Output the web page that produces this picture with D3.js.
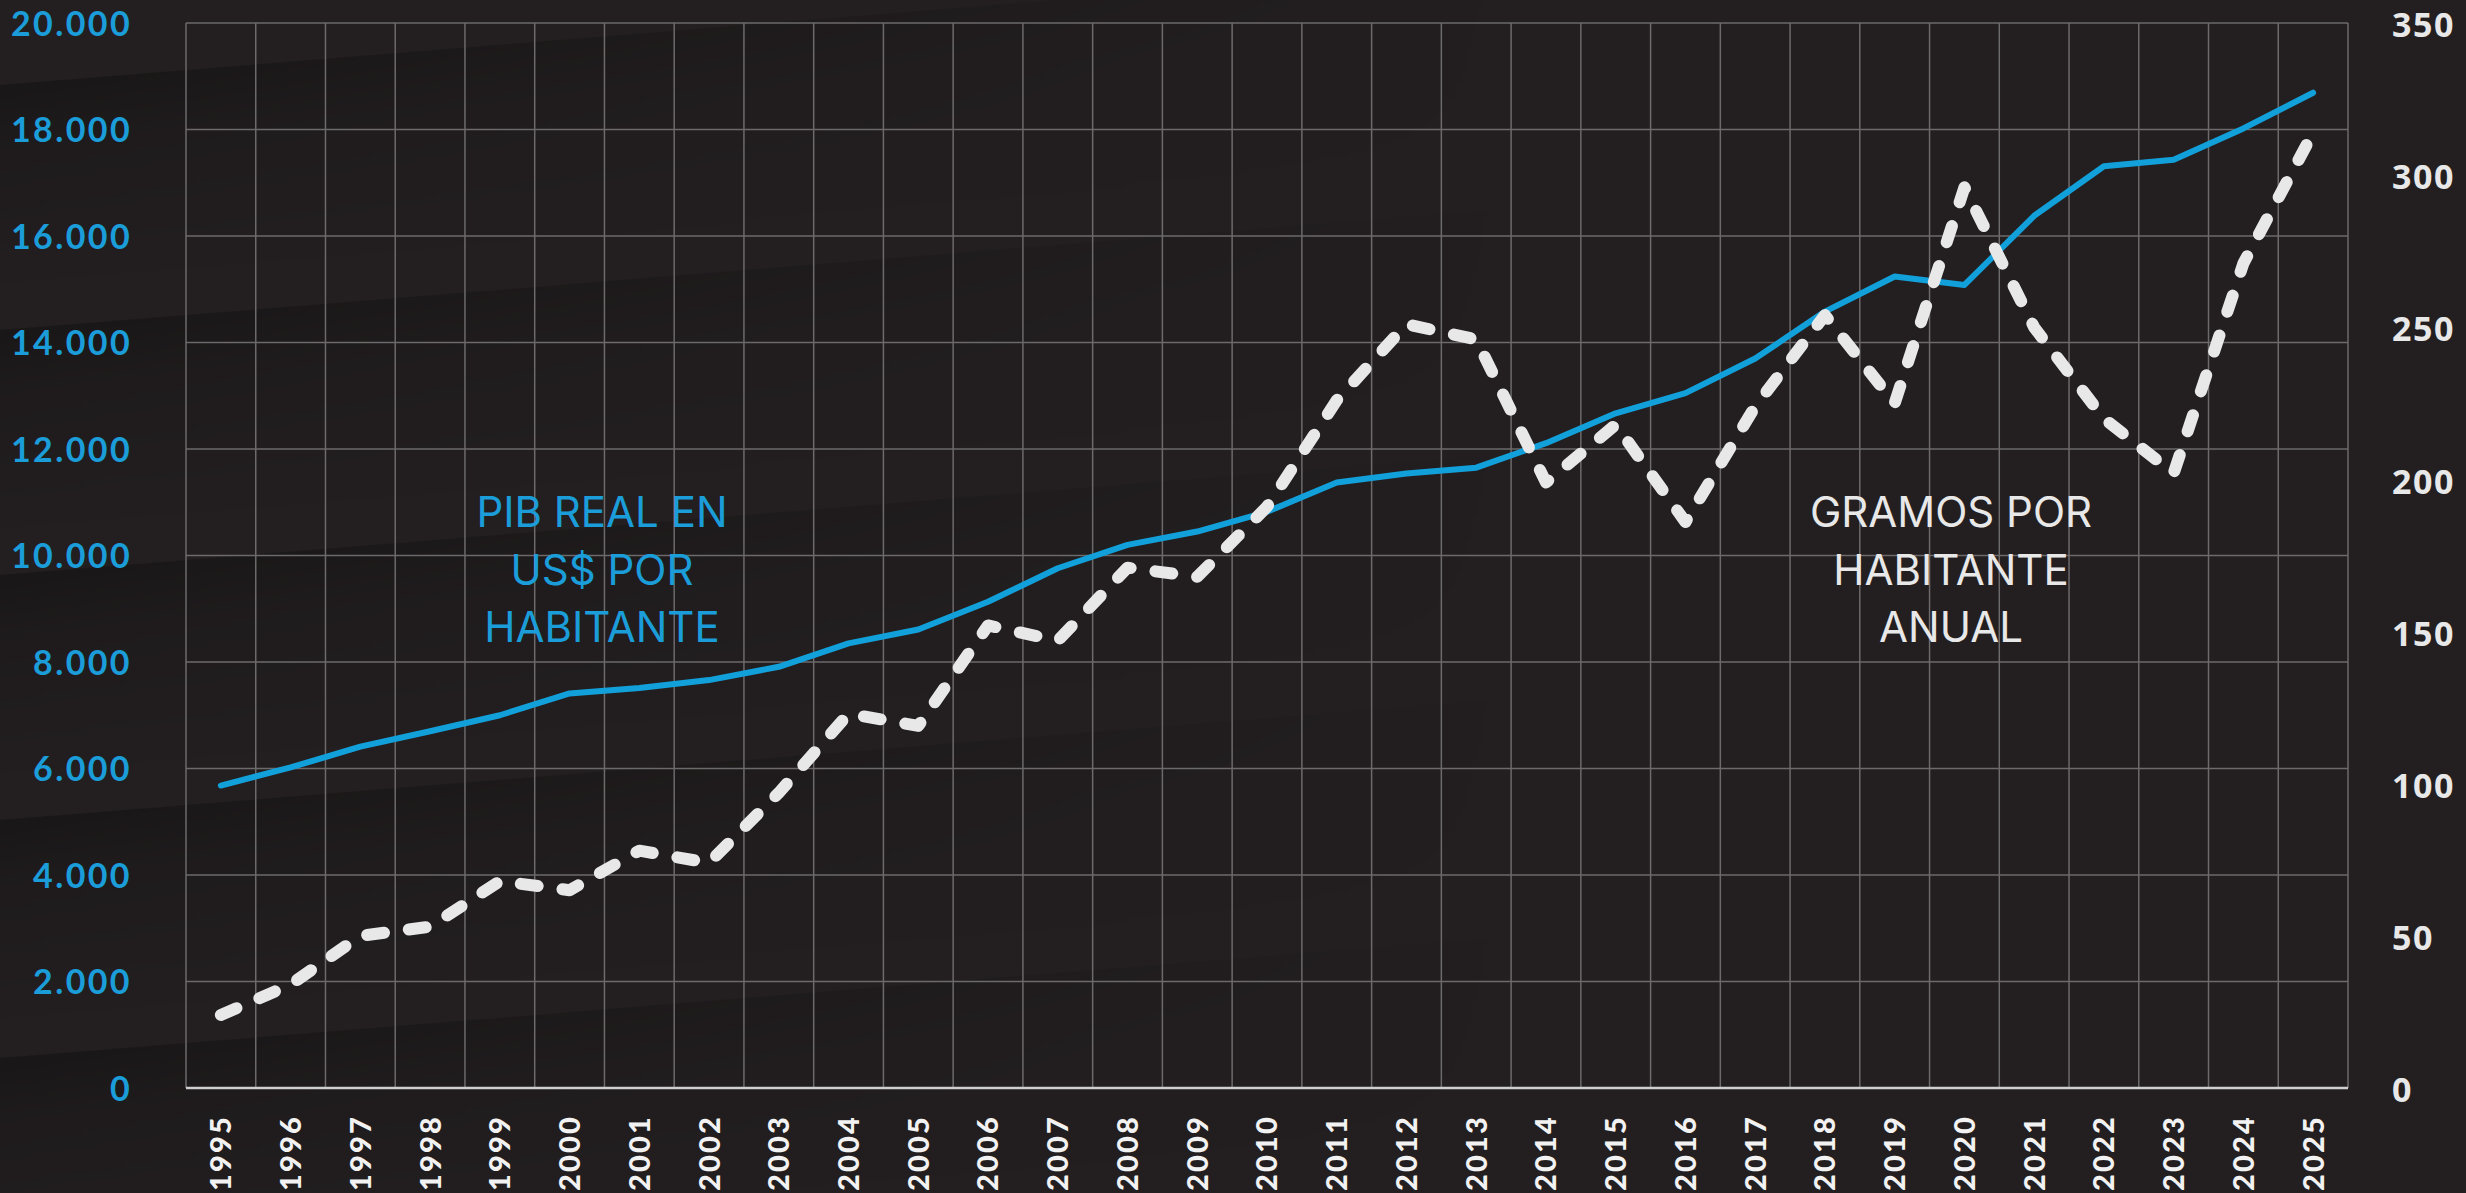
<!DOCTYPE html>
<html>
<head>
<meta charset="utf-8">
<script src="https://cdn.jsdelivr.net/npm/d3@7"></script>
<style>
  html, body { margin: 0; padding: 0; background: #231f20; overflow: hidden; }
  svg { display: block; }
</style>
</head>
<body>
<svg id="chart" width="2466" height="1193"></svg>
<script>
// ---------- DATA ----------
const years = [1995,1996,1997,1998,1999,2000,2001,2002,2003,2004,2005,2006,2007,2008,2009,2010,
               2011,2012,2013,2014,2015,2016,2017,2018,2019,2020,2021,2022,2023,2024,2025];
// PIB real en US$ por habitante (left axis)
const pibPerCapita = [5680,6020,6410,6700,7000,7410,7510,7660,7910,8350,8610,9130,9760,10200,10450,10820,
                      11370,11540,11650,12110,12670,13050,13700,14580,15240,15080,16380,17310,17430,18020,18690];
// Gramos por habitante anual (right axis)
const gramsPerCapita = [24,34,50,53,68,65,78,74,97,123,119,152,147,171,168,191,
                        226,251,246,199,218,186,224,254,225,296,250,220,202,271,314];
const leftTicks = [0,2000,4000,6000,8000,10000,12000,14000,16000,18000,20000];
const rightTicks = [0,50,100,150,200,250,300,350];
const pibLabel = ["PIB REAL EN", "US$ POR", "HABITANTE"];
const gramsLabel = ["GRAMOS POR", "HABITANTE", "ANUAL"];

// ---------- LAYOUT ----------
const W = 2466, H = 1193;
const pL = 186, pR = 2348, pT = 23, pB = 1088;
const BLUE = "#12a0db", LABEL_BLUE = "#1b9dd9", WHITE = "#e8e8e8";

const svg = d3.select("#chart");
const defs = svg.append("defs");

// background
svg.append("rect").attr("width", W).attr("height", H).attr("fill", "#231f20");

// subtle diagonal shading bands
const bandGrad = defs.append("linearGradient").attr("id", "bandGrad")
  .attr("x1", 0).attr("y1", 0).attr("x2", 0).attr("y2", 1);
bandGrad.append("stop").attr("offset", 0).attr("stop-color", "#000").attr("stop-opacity", 0.26);
bandGrad.append("stop").attr("offset", 0.3).attr("stop-color", "#000").attr("stop-opacity", 0.12);
bandGrad.append("stop").attr("offset", 1).attr("stop-color", "#000").attr("stop-opacity", 0);
const fadeGrad = defs.append("linearGradient").attr("id", "fadeGrad")
  .attr("gradientUnits", "userSpaceOnUse").attr("x1", 0).attr("y1", 0).attr("x2", 1500).attr("y2", 0);
fadeGrad.append("stop").attr("offset", 0).attr("stop-color", "#fff").attr("stop-opacity", 1);
fadeGrad.append("stop").attr("offset", 0.45).attr("stop-color", "#fff").attr("stop-opacity", 0.55);
fadeGrad.append("stop").attr("offset", 1).attr("stop-color", "#fff").attr("stop-opacity", 0);
defs.append("mask").attr("id", "fadeMask")
  .append("rect").attr("x", 0).attr("y", 0).attr("width", W).attr("height", H).attr("fill", "url(#fadeGrad)");
const bg = svg.append("g").attr("mask", "url(#fadeMask)");
[85, 330, 575, 820, 1058].forEach(e => {
  const g = bg.append("g").attr("transform", `rotate(-4.6, 0, ${e})`);
  g.append("rect").attr("x", -60).attr("y", e).attr("width", 1700).attr("height", 200).attr("fill", "url(#bandGrad)");
});

// ---------- SCALES ----------
const x = d3.scaleBand().domain(years).range([pL, pR]).paddingInner(0).paddingOuter(0);
const cx = d => x(d) + x.bandwidth() / 2;
const yL = d3.scaleLinear().domain([0, 20000]).range([pB, pT]);
const yR = d3.scaleLinear().domain([0, 350]).range([pB, pT]);

// ---------- GRID ----------
const grid = svg.append("g").attr("stroke", "#6d6a6b").attr("stroke-width", 1.5);
const vLines = years.map(y => x(y)).concat([x(years[years.length - 1]) + x.bandwidth()]);
grid.selectAll("line.v").data(vLines).join("line").attr("class", "v")
  .attr("x1", d => d).attr("x2", d => d).attr("y1", pT).attr("y2", pB);
grid.selectAll("line.h").data(leftTicks.filter(t => t > 0)).join("line").attr("class", "h")
  .attr("x1", pL).attr("x2", pR).attr("y1", d => yL(d)).attr("y2", d => yL(d));
// bottom axis line
svg.append("line").attr("x1", pL).attr("x2", pR).attr("y1", yL(0)).attr("y2", yL(0))
  .attr("stroke", "#cfcfcf").attr("stroke-width", 2.5);

// ---------- AXES ----------
const loc = d3.formatLocale({ decimal: ",", thousands: ".", grouping: [3], currency: ["$", ""] });
const fmt = loc.format(",");

const axL = svg.append("g").attr("transform", `translate(${pL},0)`)
  .call(d3.axisLeft(yL).tickValues(leftTicks).tickFormat(fmt).tickSize(0).tickPadding(pL - 132));
axL.select(".domain").remove();
axL.selectAll("text").attr("fill", LABEL_BLUE)
  .style("font-family", "Lato, 'Open Sans', sans-serif").style("font-weight", 700)
  .style("font-size", "34px").style("letter-spacing", "2.4px").attr("dy", "0.36em");

const axR = svg.append("g").attr("transform", `translate(${pR},0)`)
  .call(d3.axisRight(yR).tickValues(rightTicks).tickFormat(d3.format("d")).tickSize(0).tickPadding(2392 - pR));
axR.select(".domain").remove();
axR.selectAll("text").attr("fill", WHITE)
  .style("font-family", "'Open Sans', sans-serif").style("font-weight", 700)
  .style("font-size", "34px").style("letter-spacing", "1.5px").attr("dy", "0.4em");

const axB = svg.append("g").attr("transform", `translate(0,${pB})`)
  .call(d3.axisBottom(x).tickSize(0).tickFormat(d3.format("d")));
axB.select(".domain").remove();
axB.selectAll(".tick text")
  .attr("transform", "translate(0,27) rotate(-90)")
  .attr("x", 0).attr("y", 0).attr("dy", "0.36em")
  .attr("text-anchor", "end")
  .attr("fill", "#f2f2f2")
  .style("font-family", "Lato, sans-serif").style("font-weight", 900)
  .style("font-size", "29px").style("letter-spacing", "2.2px");

// ---------- LINES ----------
const pibLine = d3.line().x((d, i) => cx(years[i])).y(d => yL(d));
svg.append("path").datum(pibPerCapita).attr("d", pibLine)
  .attr("fill", "none").attr("stroke", BLUE).attr("stroke-width", 6)
  .attr("stroke-linejoin", "round").attr("stroke-linecap", "round");

const gramsLine = d3.line().x((d, i) => cx(years[i])).y(d => yR(d));
svg.append("path").datum(gramsPerCapita).attr("d", gramsLine)
  .attr("fill", "none").attr("stroke", WHITE).attr("stroke-width", 12)
  .attr("stroke-dasharray", "17 25")
  .attr("stroke-linejoin", "round").attr("stroke-linecap", "round");

// ---------- ANNOTATIONS ----------
function annot(lines, xc, color) {
  svg.append("g").selectAll("text").data(lines).join("text")
    .attr("x", xc).attr("y", (d, i) => 527 + i * 57.5)
    .attr("text-anchor", "middle").attr("fill", color)
    .style("font-family", "Inter, 'Open Sans', sans-serif").style("font-weight", 400)
    .style("font-size", "42px")
    .text(d => d);
}
annot(pibLabel, 602, LABEL_BLUE);
annot(gramsLabel, 1951, WHITE);
</script>
</body>
</html>
